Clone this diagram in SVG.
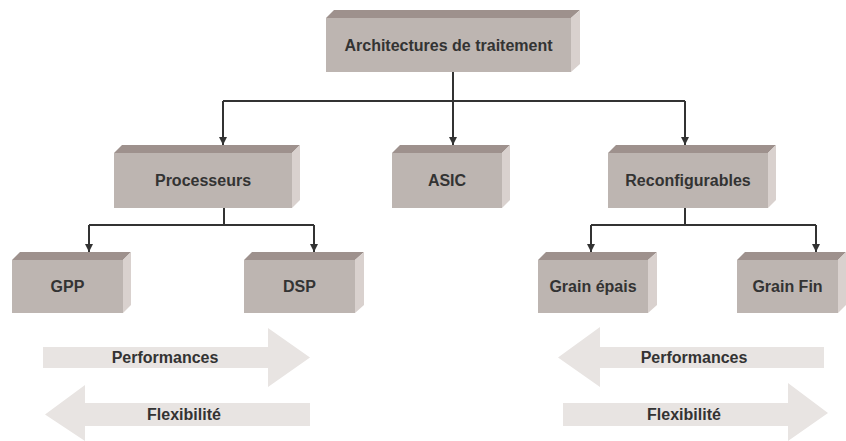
<svg xmlns="http://www.w3.org/2000/svg" width="846" height="441" viewBox="0 0 846 441">
<defs>
<style>
.front{fill:#bdb5b1}
.top{fill:#9e918d}
.side{fill:#d9d1ce}
.lbl{font-family:"Liberation Sans",Arial,sans-serif;font-weight:bold;font-size:16px;fill:#333333;text-anchor:middle}
.conn{fill:none;stroke:#333333;stroke-width:2}
.big{fill:#e8e4e2}
</style>
<marker id="ah" markerWidth="8" markerHeight="8" viewBox="0 0 8 8" refX="8" refY="4" orient="auto" markerUnits="userSpaceOnUse">
<path d="M0,0 L8,4 L0,8 Z" fill="#333333"/>
</marker>
</defs>
<rect width="846" height="441" fill="#ffffff"/>

<g id="connectors">
<path class="conn" d="M453,72 V101"/>
<path class="conn" d="M223,101 H685"/>
<path class="conn" d="M223,101 V145" marker-end="url(#ah)"/>
<path class="conn" d="M453,101 V145" marker-end="url(#ah)"/>
<path class="conn" d="M685,101 V145" marker-end="url(#ah)"/>
<path class="conn" d="M224,208 V225"/>
<path class="conn" d="M89,225 H314"/>
<path class="conn" d="M89,225 V252" marker-end="url(#ah)"/>
<path class="conn" d="M314,225 V252" marker-end="url(#ah)"/>
<path class="conn" d="M685,208 V225"/>
<path class="conn" d="M591,225 H816"/>
<path class="conn" d="M591,225 V252" marker-end="url(#ah)"/>
<path class="conn" d="M816,225 V252" marker-end="url(#ah)"/>
</g>

<g id="n-root">
<polygon class="top" points="326,18 334,10 580,10 571,18"/>
<polygon class="side" points="571,18 580,10 580,64 571,72"/>
<rect class="front" x="326" y="18" width="245" height="54"/>
<text class="lbl" x="448.5" y="51">Architectures de traitement</text>
</g>

<g id="n-proc">
<polygon class="top" points="114,153 122,145 300,145 292,153"/>
<polygon class="side" points="292,153 300,145 300,200 292,208"/>
<rect class="front" x="114" y="153" width="178" height="55"/>
<text class="lbl" x="203" y="186">Processeurs</text>
</g>

<g id="n-asic">
<polygon class="top" points="392,153 400,145 510,145 502,153"/>
<polygon class="side" points="502,153 510,145 510,200 502,208"/>
<rect class="front" x="392" y="153" width="110" height="55"/>
<text class="lbl" x="447" y="186">ASIC</text>
</g>

<g id="n-reconf">
<polygon class="top" points="608,153 616,145 776,145 768,153"/>
<polygon class="side" points="768,153 776,145 776,200 768,208"/>
<rect class="front" x="608" y="153" width="160" height="55"/>
<text class="lbl" x="688" y="186">Reconfigurables</text>
</g>

<g id="n-gpp">
<polygon class="top" points="12,260 20,252 131,252 123,260"/>
<polygon class="side" points="123,260 131,252 131,305 123,313"/>
<rect class="front" x="12" y="260" width="111" height="53"/>
<text class="lbl" x="67.5" y="292">GPP</text>
</g>

<g id="n-dsp">
<polygon class="top" points="244,260 252,252 364,252 355,260"/>
<polygon class="side" points="355,260 364,252 364,305 355,313"/>
<rect class="front" x="244" y="260" width="111" height="53"/>
<text class="lbl" x="299.5" y="292">DSP</text>
</g>

<g id="n-epais">
<polygon class="top" points="538,260 546,252 657,252 648,260"/>
<polygon class="side" points="648,260 657,252 657,305 648,313"/>
<rect class="front" x="538" y="260" width="110" height="53"/>
<text class="lbl" x="593" y="292">Grain épais</text>
</g>

<g id="n-fin">
<polygon class="top" points="737,260 745,252 846,252 838,260"/>
<polygon class="side" points="838,260 846,252 846,305 838,313"/>
<rect class="front" x="737" y="260" width="101" height="53"/>
<text class="lbl" x="787.5" y="292">Grain Fin</text>
</g>

<g id="arrows-left">
<polygon class="big" points="43,347 268,347 268,328 310,357.5 268,387 268,368 43,368"/>
<text class="lbl" x="165" y="363">Performances</text>
<polygon class="big" points="310,403 85,403 85,385 45,414.5 85,441 85,426 310,426"/>
<text class="lbl" x="184" y="420">Flexibilité</text>
</g>

<g id="arrows-right">
<polygon class="big" points="824,347 600,347 600,327 558,357.5 600,387 600,368 824,368"/>
<text class="lbl" x="694" y="363">Performances</text>
<polygon class="big" points="563,403 788,403 788,383 828,413 788,441 788,426 563,426"/>
<text class="lbl" x="684" y="420">Flexibilité</text>
</g>
</svg>
